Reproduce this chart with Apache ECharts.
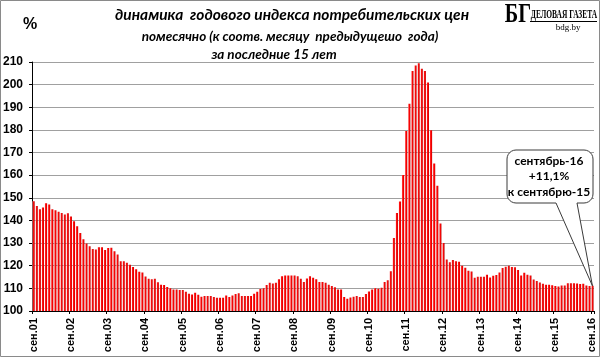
<!DOCTYPE html>
<html><head><meta charset="utf-8">
<script src="https://cdn.jsdelivr.net/npm/echarts@6/dist/echarts.min.js"></script>
<style>html,body{margin:0;padding:0;background:#fff}#c{width:600px;height:357px}</style>
</head><body><div id="c"></div>
<script>
// ---- data ----
const monthNames = ['янв','фев','мар','апр','май','июн','июл','авг','сен','окт','ноя','дек'];
const startYear = 2001, startMonth = 8; // first bar: сен.01
const values = [
 148.5,146.4,145.0,145.7,147.6,147.0,145.0,144.5,143.9,143.3,142.6,143.2,
 141.8,139.6,137.4,134.5,131.7,129.8,128.6,127.4,127.2,128.2,128.2,126.9,
 127.8,127.9,126.4,125.0,122.0,122.0,121.3,120.4,119.4,118.4,117.3,117.0,
 115.2,114.2,114.0,114.3,112.7,111.6,111.5,110.6,110.0,109.5,109.5,109.3,
 109.3,108.5,107.6,107.3,108.1,107.2,106.3,106.6,106.6,106.6,106.2,105.9,
 105.9,105.9,106.9,106.2,106.9,107.5,107.8,106.6,106.6,106.6,106.6,107.6,
 108.5,109.7,110.0,111.5,112.5,112.2,112.5,114.0,115.3,115.7,115.7,115.7,
 115.7,115.3,114.2,112.8,114.4,115.3,114.7,114.0,112.8,112.8,112.5,111.6,
 111.0,110.5,109.5,109.5,106.2,105.4,106.0,106.3,106.6,106.2,106.2,107.5,
 108.6,109.5,110.0,109.8,110.3,112.8,113.6,117.6,132.3,143.3,148.4,160.1,
 179.5,191.6,206.0,208.5,209.5,207.0,206.0,200.9,179.9,165.2,155.3,138.6,
 130.0,122.7,121.5,122.5,122.0,121.8,120.0,119.1,117.8,117.5,114.7,115.1,
 115.1,115.1,116.0,114.8,115.6,115.9,117.0,119.0,119.6,120.0,119.4,119.3,
 118.1,115.7,116.9,116.0,115.7,113.9,113.2,112.6,112.0,111.6,111.6,111.4,
 111.0,110.8,111.3,111.3,112.3,112.3,112.3,112.1,111.9,112.0,111.3,111.0,
 111.1
];
const yMin = 100, yMax = 210, yStep = 10;
const titleText = 'динамика  годового индекса потребительских цен';
const subtitleText = 'помесячно (к соотв. месяцу  предыдущешо  года)';
const periodText = 'за последние 15 лет';
const unitText = '%';
const calloutLines = ['сентябрь-16', '+11,1%', 'к сентябрю-15'];

const categories = values.map((v, i) => {
  const m = (startMonth + i) % 12;
  const y = startYear + Math.floor((startMonth + i) / 12);
  return monthNames[m] + '.' + String(y % 100).padStart(2, '0');
});

const chart = echarts.init(document.getElementById('c'), null, {renderer: 'canvas'});
const barGrad = new echarts.graphic.LinearGradient(0, 0, 1, 0, [
  {offset: 0, color: '#ffb0b0'},
  {offset: 0.3, color: '#ff1010'},
  {offset: 0.7, color: '#f00000'},
  {offset: 1, color: '#b00000'}
]);
chart.setOption({
  animation: false,
  backgroundColor: '#fff',
  grid: {left: 30, right: 6, top: 62, bottom: 46, containLabel: false},
  xAxis: {
    type: 'category', data: categories, boundaryGap: true,
    axisLine: {lineStyle: {color: '#000', width: 1}},
    axisTick: {show: true, length: 3, interval: (i, v) => v.startsWith('сен'), lineStyle: {color: '#000'}},
    axisLabel: {
      interval: (i, v) => v.startsWith('сен'), rotate: 90, margin: 7,
      fontFamily: 'Liberation Sans', fontWeight: 'bold', fontSize: 11, color: '#000'
    },
    splitLine: {show: false}
  },
  yAxis: {
    type: 'value', min: yMin, max: yMax, interval: yStep,
    axisLine: {show: true, lineStyle: {color: '#000', width: 1}},
    axisTick: {show: true, length: 3, lineStyle: {color: '#000'}},
    axisLabel: {margin: 9, fontFamily: 'Liberation Sans', fontWeight: 'bold', fontSize: 12, color: '#000'},
    splitLine: {lineStyle: {color: '#a0a0a0', width: 1}}
  },
  series: [{
    type: 'bar', data: values, barCategoryGap: '28%',
    itemStyle: {color: barGrad}, silent: true
  }]
});

// callout outline (rounded box with a tail pointing to the last bar)
const last = values.length - 1;
const tip = chart.convertToPixel({xAxisIndex: 0, yAxisIndex: 0}, [categories[last], values[last]]);
const L = 507, T = 150, R = 593, B = 203, r = 9, x1 = 556, x2 = 577;
function arc(cx, cy, a0, a1) {
  const pts = [];
  for (let k = 0; k <= 6; k++) {
    const a = a0 + (a1 - a0) * k / 6;
    pts.push([cx + r * Math.cos(a), cy + r * Math.sin(a)]);
  }
  return pts;
}
const PI = Math.PI;
let pts = [];
pts = pts.concat(arc(L + r, T + r, PI, 1.5 * PI));
pts = pts.concat(arc(R - r, T + r, 1.5 * PI, 2 * PI));
pts = pts.concat(arc(R - r, B - r, 0, 0.5 * PI));
pts.push([x2, B], [tip[0], tip[1]], [x1, B]);
pts = pts.concat(arc(L + r, B - r, 0.5 * PI, PI));

const titleFont = {fontFamily: 'Lato', fontWeight: 'bold', fontStyle: 'italic', fill: '#000'};
chart.setOption({
  graphic: [
    {type: 'rect', shape: {x: 0.5, y: 0.5, width: 599, height: 356}, style: {fill: 'none', stroke: '#8a8a8a', lineWidth: 1}, silent: true},
    {type: 'text', x: 30, y: 25, style: {text: unitText, font: 'bold 16px "Liberation Sans"', fill: '#000', textAlign: 'center', textVerticalAlign: 'middle'}},
    {type: 'text', x: 292, y: 15, style: Object.assign({text: titleText, fontSize: 15.5, textAlign: 'center', textVerticalAlign: 'middle'}, titleFont)},
    {type: 'text', x: 290, y: 37, style: Object.assign({text: subtitleText, fontSize: 13.5, textAlign: 'center', textVerticalAlign: 'middle'}, titleFont)},
    {type: 'text', x: 274, y: 55, style: Object.assign({text: periodText, fontSize: 13.5, textAlign: 'center', textVerticalAlign: 'middle'}, titleFont)},
    // logo
    {type: 'text', x: 518, y: 15, scaleX: 0.75, style: {text: 'БГ', font: 'bold 27px "Liberation Serif"', fill: '#000', textAlign: 'center', textVerticalAlign: 'middle'}},
    {type: 'text', x: 564, y: 15, scaleX: 0.62, style: {text: 'ДЕЛОВАЯ ГАЗЕТА', font: 'bold 12px "Liberation Serif"', fill: '#000', textAlign: 'center', textVerticalAlign: 'middle'}},
    {type: 'line', shape: {x1: 530, y1: 21.5, x2: 597, y2: 21.5}, style: {stroke: '#000', lineWidth: 1}},
    {type: 'text', x: 568, y: 28, style: {text: 'bdg.by', font: '9px "Liberation Serif"', fill: '#000', textAlign: 'center', textVerticalAlign: 'middle'}},
    // callout
    {type: 'polygon', shape: {points: pts}, style: {fill: '#fff', stroke: '#3a3a3a', lineWidth: 1}, z: 100},
    {type: 'text', x: 549, y: 161, z: 101, style: {text: calloutLines[0], font: 'bold 12px Lato', fill: '#000', textAlign: 'center', textVerticalAlign: 'middle'}},
    {type: 'text', x: 549, y: 176.5, z: 101, style: {text: calloutLines[1], font: 'bold 12px Lato', fill: '#000', textAlign: 'center', textVerticalAlign: 'middle'}},
    {type: 'text', x: 549, y: 192, z: 101, style: {text: calloutLines[2], font: 'bold 12px Lato', fill: '#000', textAlign: 'center', textVerticalAlign: 'middle'}}
  ]
});
</script></body></html>
